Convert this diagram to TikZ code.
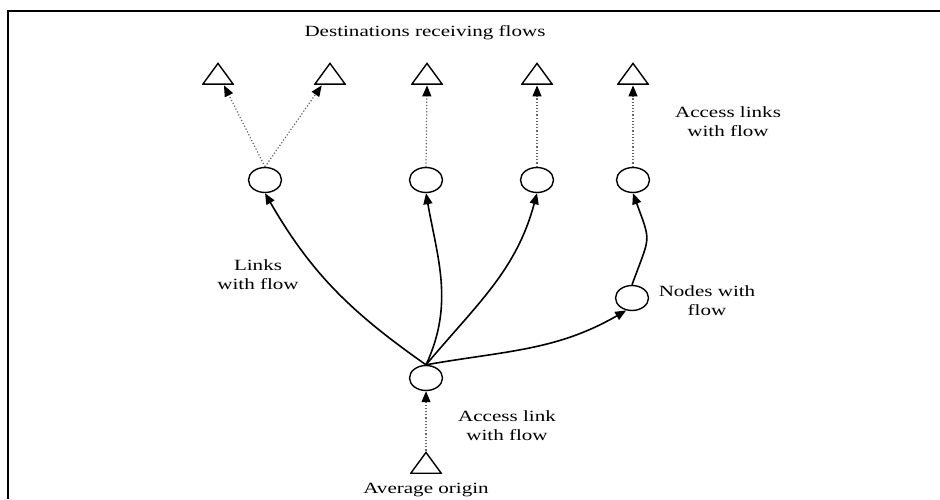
\documentclass[tikz,border=0pt]{standalone}
\usepackage{fontspec}
\setmainfont{Liberation Serif}
\usepackage{graphicx}
\usetikzlibrary{shapes.geometric,arrows.meta}
\newcommand{\widetext}[1]{\scalebox{1.35}[1]{\begin{tabular}{@{}c@{}}#1\end{tabular}}}
\begin{document}
\begin{tikzpicture}[x=0.5pt,y=0.5pt,
  circ/.style={ellipse, draw, line width=0.7pt, minimum width=16.5pt, minimum height=12.5pt, inner sep=0pt},
  tri/.style={rectangle, minimum width=16pt, minimum height=11.5pt, inner sep=0pt,
    path picture={\draw[line width=0.7pt, line join=miter]
      ([shift={(0.4pt,0.4pt)}]path picture bounding box.south west) --
      ([shift={(-0.4pt,0.4pt)}]path picture bounding box.south east) --
      ([shift={(0pt,-0.7pt)}]path picture bounding box.north) -- cycle;}},
  lbl/.style={font=\fontsize{7.8pt}{9.8pt}\selectfont, inner sep=0pt},
  flow/.style={line width=0.8pt, -{Triangle[length=5.5pt,width=4.5pt]}},
  acc/.style={densely dotted, line width=0.6pt, draw=black!60, -{Triangle[length=5.5pt,width=4.5pt,color=black]}}
]
\useasboundingbox (0,0) rectangle (940,499);
\draw[line width=1.25pt, line join=miter] (8,0) -- (8,488) -- (940,488);

% destinations
\node[tri] (t1) at (218,425.5) {};
\node[tri] (t2) at (330,425.5) {};
\node[tri] (t3) at (427,425.5) {};
\node[tri] (t4) at (537,425.5) {};
\node[tri] (t5) at (633,425.5) {};

% nodes
\node[circ] (c1) at (265,319) {};
\node[circ] (c2) at (426,319) {};
\node[circ] (c3) at (537,319) {};
\node[circ] (c4) at (633,319) {};
\node[circ] (n) at (632,201) {};
\node[circ] (o) at (426,121) {};
\node[tri] (ot) at (426,36.5) {};

% labels
\node[lbl] (title) at (425,466) {\widetext{Destinations receiving flows}};
\node[lbl] (lacc) at (728,376) {\widetext{Access links\\with flow}};
\node[lbl] (llinks) at (258,223) {\widetext{Links\\with flow}};
\node[lbl] (lnodes) at (707,197) {\widetext{Nodes with\\flow}};
\node[lbl] (lacco) at (507,72) {\widetext{Access link\\with flow}};
\node[lbl] (lorig) at (426,9) {\widetext{Average origin}};

% access links
\draw[acc] (c1.north) -- (t1);
\draw[acc] (c1.north) -- (t2);
\draw[acc] (c2.north) -- (t3.south);
\draw[acc] (c3.north) -- (t4.south);
\draw[acc] (c4.north) -- (t5.south);
\draw[acc] (ot.north) -- (o.south);

% links with flow
\draw[flow] (o.north) to[out=145,in=-60] (c1.south);
\draw[flow] (o.north) to[out=65,in=-80] (c2.south);
\draw[flow] (o.north) to[out=50,in=-105] (c3.south);
\draw[flow] (o.north) to[out=10,in=-150] (n.-115);
\draw[flow] (n.north) to[out=70,in=-70,looseness=1.5] (c4.south);
\end{tikzpicture}
\end{document}
